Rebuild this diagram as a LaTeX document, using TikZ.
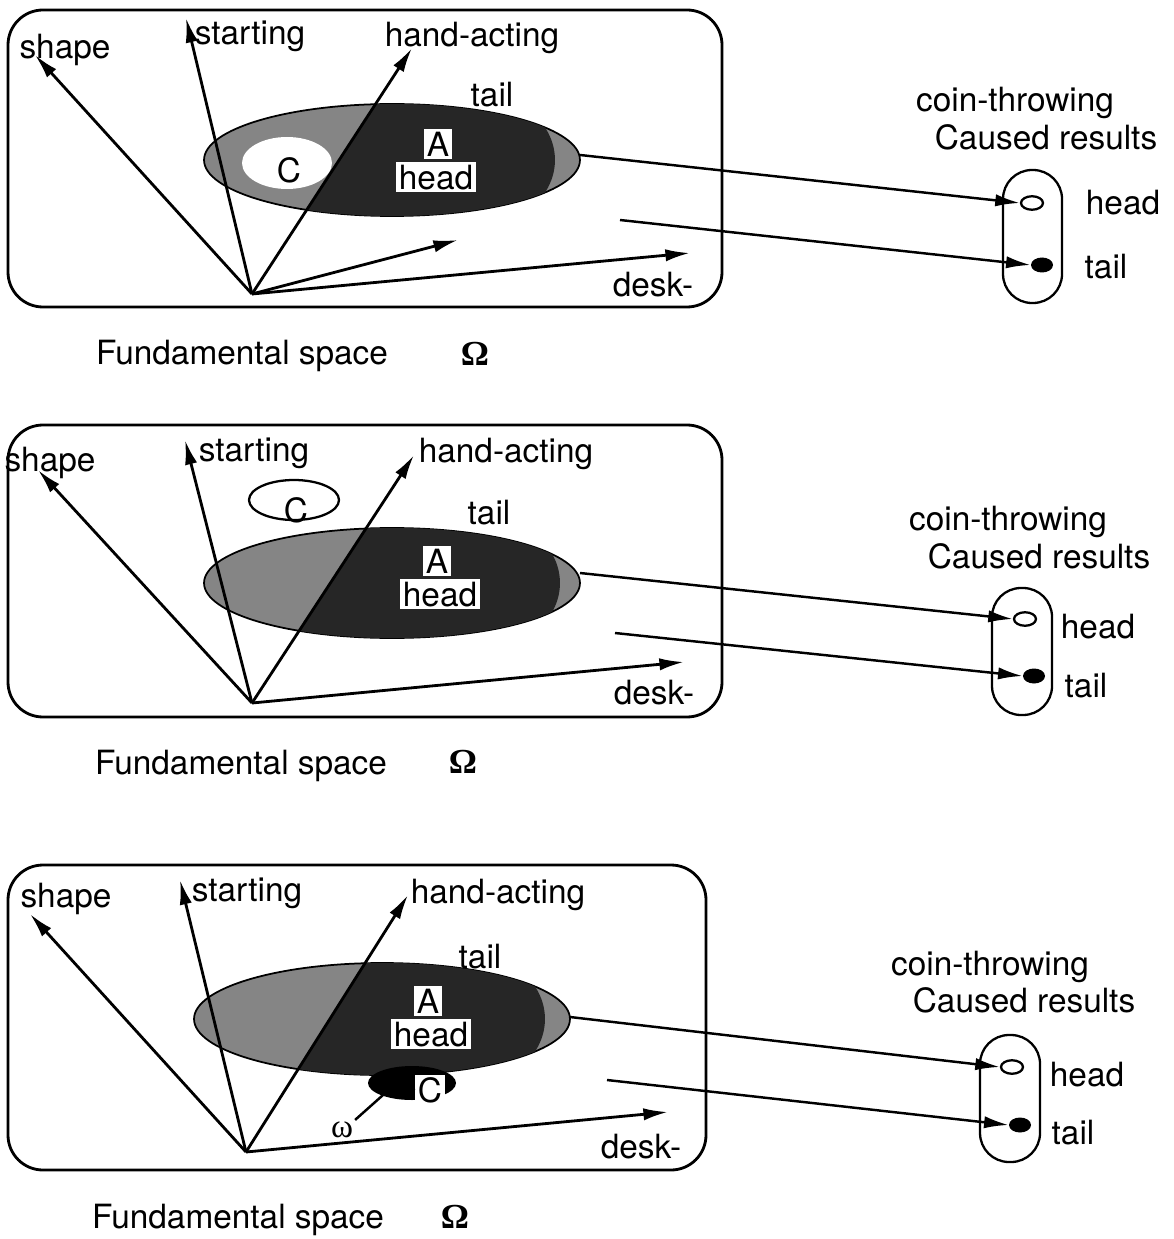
\documentclass[tikz,border=0pt]{standalone}
\usepackage{fontspec}
\setmainfont{TeX Gyre Heros}
\newfontfamily\greekfont{Liberation Serif}
\usetikzlibrary{arrows.meta,shapes.geometric}
\begin{document}
\begin{tikzpicture}[x=0.02cm,y=-0.02cm,
  every node/.style={font=\fontsize{19}{22}\selectfont, inner sep=1pt},
  omega/.style={font=\fontsize{20}{22}\selectfont\greekfont\bfseries},
  frame/.style={draw, line width=1.6pt, rounded corners=0.7cm},
  capsule/.style={draw, line width=1.3pt, rounded corners=0.58cm},
  axis/.style={line width=1.6pt, -{Latex[length=14pt,width=7pt]}},
  map/.style={line width=1.4pt, -{Latex[length=14pt,width=7pt]}},
  region/.style={fill=black!48, draw=black, line width=1pt},
  core/.style={fill=black!85},
  lbl/.style={fill=white, inner sep=1.5pt},
  headpt/.style={draw, ellipse, line width=1.3pt, fill=white, minimum width=0.44cm, minimum height=0.27cm, inner sep=0pt},
  tailpt/.style={fill=black, ellipse, minimum width=0.44cm, minimum height=0.3cm, inner sep=0pt}]
\useasboundingbox (0,0) rectangle (1173,1239);

% ---------- first space ----------
\draw[frame] (8,10) rectangle (722,307);
\fill[region] (392,160) ellipse [x radius=3.76cm, y radius=1.12cm];
\begin{scope}
  \clip (392,160) ellipse [x radius=3.76cm, y radius=1.12cm];
  \clip (252,294) -- (412,48) -- (700,48) -- (700,294) -- cycle;
  \fill[core] (440,160) ellipse [x radius=2.3cm, y radius=1.6cm];
  \fill[core] (250,90) rectangle (450,230);
\end{scope}
\fill[white] (287,163) ellipse [x radius=0.9cm, y radius=0.52cm];
\coordinate (o1) at (252,294);
\coordinate (s1) at (35,55);
\coordinate (st1) at (186,18);
\coordinate (h1) at (412,48);
\coordinate (m1) at (458,240);
\coordinate (d1) at (690,253);
\draw[axis] (o1) -- (s1);
\draw[axis] (o1) -- (st1);
\draw[axis] (o1) -- (h1);
\draw[axis] (o1) -- (m1);
\draw[axis] (o1) -- (d1);
\node[lbl] (c1) at (289,170) {C};
\node[lbl, anchor=north] (hd1) at (436,162) {head};
\node[lbl, anchor=south] (a1) at (438,159) {A};
\node at (65,50) {shape};
\node at (250,36) {starting};
\node at (472,38) {hand-acting};
\node at (492,95) {tail};
\node at (653,285) {desk-};
\node (fs1) at (242,356) {Fundamental space};
\node[omega] at (475,354) {Ω};
\draw[capsule] (1003,170) rectangle (1062,303);
\node[headpt] (ph1) at (1032,203) {};
\node[tailpt] (pt1) at (1042,265) {};
\node at (1123,203) {head};
\node at (1106,267) {tail};
\node at (1015,103) {coin-throwing};
\node at (1046,137) {Caused results};
\coordinate (e1) at (580,155);
\coordinate (f1) at (620,220);
\draw[map] (e1) -- (ph1.west);
\draw[map] (f1) -- (pt1.west);

% ---------- second space ----------
\draw[frame] (8,425) rectangle (722,717);
\fill[region] (392,583) ellipse [x radius=3.76cm, y radius=1.1cm];
\begin{scope}
  \clip (392,583) ellipse [x radius=3.76cm, y radius=1.1cm];
  \clip (252,703) -- (414,455) -- (700,455) -- (700,703) -- cycle;
  \fill[core] (445,583) ellipse [x radius=2.3cm, y radius=1.6cm];
  \fill[core] (250,515) rectangle (455,650);
\end{scope}
\draw[line width=1.3pt] (294,500) ellipse [x radius=0.9cm, y radius=0.4cm];
\coordinate (o2) at (252,703);
\coordinate (s2) at (38,470);
\coordinate (st2) at (185,440);
\coordinate (h2) at (414,455);
\coordinate (d2) at (684,662);
\draw[axis] (o2) -- (s2);
\draw[axis] (o2) -- (st2);
\draw[axis] (o2) -- (h2);
\draw[axis] (o2) -- (d2);
\node (c2) at (296,510) {C};
\node[lbl, anchor=north] (hd2) at (440,579) {head};
\node[lbl, anchor=south] (a2) at (437,576) {A};
\node at (50,463) {shape};
\node at (254,453) {starting};
\node at (506,454) {hand-acting};
\node at (489,513) {tail};
\node at (654,693) {desk-};
\node (fs2) at (241,766) {Fundamental space};
\node[omega] at (463,762) {Ω};
\draw[capsule] (992,588) rectangle (1052,715);
\node[headpt] (ph2) at (1025,619) {};
\node[tailpt] (pt2) at (1034,676) {};
\node at (1098,627) {head};
\node at (1086,686) {tail};
\node at (1008,522) {coin-throwing};
\node at (1039,556) {Caused results};
\coordinate (e2) at (580,573);
\coordinate (f2) at (615,633);
\draw[map] (e2) -- (ph2.west);
\draw[map] (f2) -- (pt2.west);

% ---------- third space ----------
\draw[frame] (8,865) rectangle (706,1170);
\fill[region] (382,1019) ellipse [x radius=3.76cm, y radius=1.12cm];
\begin{scope}
  \clip (382,1019) ellipse [x radius=3.76cm, y radius=1.12cm];
  \clip (246,1152) -- (408,895) -- (700,895) -- (700,1152) -- cycle;
  \fill[core] (430,1019) ellipse [x radius=2.3cm, y radius=1.6cm];
  \fill[core] (240,950) rectangle (440,1090);
\end{scope}
\fill[black] (412,1083) ellipse [x radius=0.88cm, y radius=0.34cm];
\coordinate (o3) at (246,1152);
\coordinate (s3) at (30,914);
\coordinate (st3) at (180,880);
\coordinate (h3) at (408,895);
\coordinate (d3) at (668,1112);
\draw[axis] (o3) -- (s3);
\draw[axis] (o3) -- (st3);
\draw[axis] (o3) -- (h3);
\draw[axis] (o3) -- (d3);
\node[lbl] (c3) at (430,1090) {C};
\node[lbl, anchor=north] (hd3) at (431,1019) {head};
\node[lbl, anchor=south] (a3) at (428,1016) {A};
\node[font=\fontsize{19}{22}\selectfont\greekfont] (w3) at (342,1130) {ω};
\coordinate (wp3) at (392,1087);
\draw[line width=1.4pt] (w3.north east) -- (wp3);
\draw[line width=1.4pt] (wp3) -- (c3.west);
\node at (66,899) {shape};
\node at (247,893) {starting};
\node at (498,895) {hand-acting};
\node at (480,957) {tail};
\node at (641,1147) {desk-};
\node (fs3) at (238,1220) {Fundamental space};
\node[omega] at (455,1217) {Ω};
\draw[capsule] (980,1035) rectangle (1040,1162);
\node[headpt] (ph3) at (1012,1067) {};
\node[tailpt] (pt3) at (1020,1125) {};
\node at (1087,1075) {head};
\node at (1073,1133) {tail};
\node at (990,967) {coin-throwing};
\node at (1024,1000) {Caused results};
\coordinate (e3) at (570,1017);
\coordinate (f3) at (607,1080);
\draw[map] (e3) -- (ph3.west);
\draw[map] (f3) -- (pt3.west);
\end{tikzpicture}
\end{document}
